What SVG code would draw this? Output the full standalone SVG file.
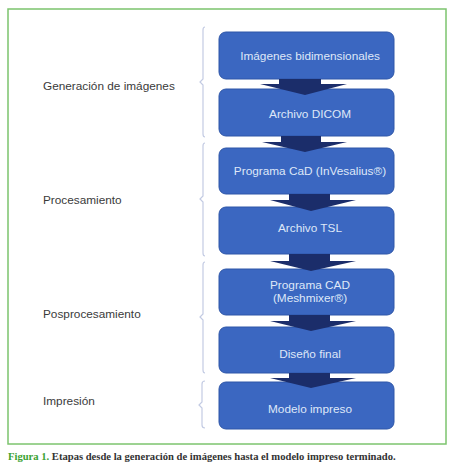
<svg xmlns="http://www.w3.org/2000/svg" width="454" height="472" viewBox="0 0 454 472">
<style>
.frame{fill:#fff;stroke:#7cc46e;stroke-width:1.5}
.box{fill:#3b67c1;stroke:#2e56a8;stroke-width:1}
.bt{font-family:"Liberation Sans",Arial,sans-serif;font-size:11.8px;fill:#dfe7f8;text-anchor:middle}
.lbl{font-family:"Liberation Sans",Arial,sans-serif;font-size:11.8px;fill:#3a3a3a}
.arr{fill:#1b2d6a}
.br{fill:none;stroke:#c3cbe3;stroke-width:1.2}
.cap{font-family:"Liberation Serif","Times New Roman",serif;font-size:10.6px;font-weight:bold;fill:#333}
</style>
<rect width="454" height="472" fill="#fff"/>
<rect class="frame" x="8" y="9" width="438" height="435"/>
<g id="brackets">
<path class="br" d="M205,27 Q203,27 203,30 V79 L200,82 L203,85 V134 Q203,137 205,137"/>
<path class="br" d="M205,143 Q203,143 203,146 V196 L200,199 L203,202 V253 Q203,256 205,256"/>
<path class="br" d="M205,262 Q203,262 203,265 V314 L200,317 L203,320 V370 Q203,373 205,373"/>
<path class="br" d="M205,381 Q202,381 202,384 V402 L199,405 L202,408 V425 Q202,428 205,428"/>
</g>
<g id="labels">
<text class="lbl" x="43" y="90">Generación de imágenes</text>
<text class="lbl" x="43" y="204">Procesamiento</text>
<text class="lbl" x="43" y="318">Posprocesamiento</text>
<text class="lbl" x="43" y="405">Impresión</text>
</g>
<g id="n1"><rect class="box" x="219" y="32" width="175" height="47" rx="7"/><text class="bt" x="310" y="60">Imágenes bidimensionales</text></g>
<g id="n2"><rect class="box" x="219" y="89" width="175" height="47" rx="7"/><text class="bt" x="310" y="118">Archivo DICOM</text></g>
<g id="n3"><rect class="box" x="219" y="148" width="175" height="46" rx="7"/><text class="bt" x="310" y="175">Programa CaD (InVesalius®)</text></g>
<g id="n4"><rect class="box" x="219" y="207" width="175" height="47" rx="7"/><text class="bt" x="310" y="232">Archivo TSL</text></g>
<g id="n5"><rect class="box" x="219" y="269" width="175" height="46" rx="7"/><text class="bt" x="310" y="289">Programa CAD</text><text class="bt" x="310" y="302">(Meshmixer®)</text></g>
<g id="n6"><rect class="box" x="219" y="327" width="175" height="46" rx="7"/><text class="bt" x="310" y="358">Diseño final</text></g>
<g id="n7"><rect class="box" x="219" y="382" width="175" height="47" rx="7"/><text class="bt" x="310" y="413">Modelo impreso</text></g>
<g id="connectors">
<polygon class="arr" points="279,79 321,79 321,84 347,84 305,95 260,84 279,84"/>
<polygon class="arr" points="281,136 321,136 321,142 347,142 305,152 262,142 281,142"/>
<polygon class="arr" points="289,194 330,194 330,200 356,200 311,211 270,200 289,200"/>
<polygon class="arr" points="289,254 330,254 330,261 356,261 311,271 270,261 289,261"/>
<polygon class="arr" points="289,315 330,315 330,321 356,321 311,331 270,321 289,321"/>
<polygon class="arr" points="289,373 330,373 330,378 356,378 311,388 270,378 289,378"/>
</g>
<text class="cap" x="8" y="460"><tspan fill="#3aa232">Figura 1.</tspan> Etapas desde la generación de imágenes hasta el modelo impreso terminado.</text>
</svg>
